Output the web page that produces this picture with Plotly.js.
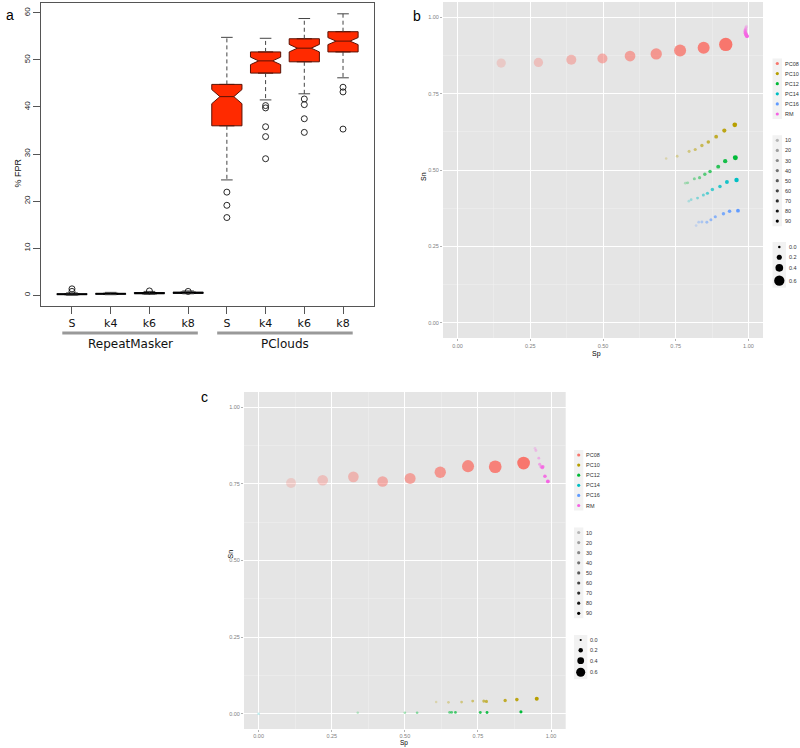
<!DOCTYPE html>
<html><head><meta charset="utf-8">
<script src="https://cdn.plot.ly/plotly-3.0.1.min.js"></script>
<style>html,body{margin:0;padding:0;background:#fff;}#chart{width:800px;height:748px;}</style>
</head><body><div id="chart"></div>
<script>
// ---------------- Panel a : % FPR boxplots ----------------
const boxLabels = ['S','k4','k6','k8','S','k4','k6','k8'];
const groupNames = ['RepeatMasker','PClouds'];
const boxQ1 =            [0.10, 0.20, 0.30, 0.40, 36.0, 47.2, 49.6, 51.7];
const boxMedian =        [0.20, 0.30, 0.40, 0.50, 42.2, 49.8, 52.5, 54.0];
const boxQ3 =            [0.30, 0.40, 0.55, 0.65, 44.8, 51.7, 54.5, 56.0];
const boxLowerWhisker =  [0.00, 0.10, 0.20, 0.30, 24.5, 41.5, 42.8, 46.2];
const boxUpperWhisker =  [0.50, 0.60, 0.80, 0.90, 54.8, 54.6, 58.8, 59.8];
const boxNotchSpan =     [0.05, 0.05, 0.05, 0.05, 1.5, 0.8, 0.8, 0.75];
const outlierBox =  [0, 0, 2, 3, 4, 4, 4, 5, 5, 5, 5, 5, 6, 6, 6, 6, 7, 7, 7];
const outlierVal =  [1.35, 0.8, 0.9, 0.8, 21.9, 19.1, 16.5, 40.3, 39.8, 35.8, 33.7, 29.0, 41.7, 40.5, 37.5, 34.6, 44.2, 43.2, 35.3];

// ---------------- Panels b and c : Sn vs Sp ----------------
const seriesNames = ['PC08','PC10','PC12','PC14','PC16','RM'];
const alphaLevels = [10,20,30,40,50,60,70,80,90];
const sizeBreaks = [0.0,0.2,0.4,0.6];

const bPC08Sp = [0.150,0.278,0.391,0.498,0.593,0.683,0.765,0.846,0.922];
const bPC08Sn = [0.850,0.852,0.861,0.865,0.873,0.880,0.891,0.900,0.911];
const bPC08Size = [0.52,0.52,0.58,0.58,0.63,0.68,0.73,0.73,0.83];
const bPC10Sp = [0.717,0.755,0.796,0.817,0.840,0.862,0.889,0.917,0.953];
const bPC10Sn = [0.538,0.545,0.561,0.567,0.580,0.592,0.609,0.629,0.648];
const bPC10Size = [0.00,0.02,0.04,0.05,0.07,0.08,0.10,0.13,0.17];
const bPC12Sp = [0.783,0.791,0.814,0.832,0.850,0.868,0.896,0.920,0.955];
const bPC12Sn = [0.457,0.458,0.471,0.475,0.486,0.495,0.511,0.529,0.540];
const bPC12Size = [0.02,0.03,0.04,0.05,0.07,0.08,0.11,0.14,0.19];
const bPC14Sp = [0.795,0.803,0.825,0.845,0.859,0.876,0.902,0.926,0.959];
const bPC14Sn = [0.398,0.403,0.408,0.418,0.424,0.436,0.446,0.461,0.467];
const bPC14Size = [0.01,0.02,0.03,0.04,0.05,0.07,0.08,0.11,0.15];
const bPC16Sp = [0.820,0.829,0.840,0.857,0.871,0.886,0.914,0.935,0.964];
const bPC16Sn = [0.318,0.329,0.330,0.329,0.337,0.347,0.357,0.365,0.367];
const bPC16Size = [0.01,0.02,0.03,0.03,0.04,0.05,0.07,0.08,0.10];
const bRMSp = [0.993,0.991,0.990,0.989,0.989,0.990,0.991,0.993,0.995];
const bRMSn = [0.970,0.965,0.960,0.956,0.952,0.948,0.945,0.941,0.938];
const bRMSize = [0.05,0.06,0.07,0.08,0.08,0.09,0.09,0.10,0.10];

const cPC08Sp = [0.111,0.219,0.324,0.424,0.518,0.621,0.716,0.809,0.906];
const cPC08Sn = [0.753,0.762,0.773,0.758,0.768,0.788,0.808,0.806,0.818];
const cPC08Size = [0.68,0.74,0.74,0.74,0.77,0.80,0.86,0.92,0.92];
const cPC10Sp = [0.607,0.649,0.694,0.732,0.770,0.779,0.843,0.883,0.951];
const cPC10Sn = [0.038,0.037,0.038,0.041,0.041,0.040,0.043,0.046,0.049];
const cPC10Size = [0.03,0.04,0.05,0.06,0.08,0.08,0.10,0.12,0.16];
const cPC12Sp = [0.339,0.500,0.542,0.653,0.660,0.673,0.758,0.781,0.897];
const cPC12Sn = [0.003,0.003,0.003,0.004,0.004,0.004,0.004,0.004,0.006];
const cPC12Size = [0.03,0.04,0.04,0.05,0.05,0.05,0.06,0.06,0.08];
const cPC14Sp = [0.000];
const cPC14Sn = [0.000];
const cPC14Size = [0.03];
const cPC16Sp = [];
const cPC16Sn = [];
const cPC16Size = [];
const cRMSp = [0.945,0.948,0.958,0.961,0.966,0.970,0.972,0.979,0.989];
const cRMSn = [0.866,0.859,0.834,0.814,0.806,0.803,0.806,0.775,0.758];
const cRMSize = [0.04,0.06,0.06,0.08,0.10,0.10,0.10,0.12,0.14];

// ---------------- styling ----------------
const seriesColors = ['#F8766D','#B79F00','#00BA38','#00BFC4','#619CFF','#F564E3'];
const W = 800, H = 748;
const px = x => x / W;
const py = y => 1 - y / H;
const alphaOf = v => 0.25 + 0.75 * (v - 10) / 80;
const sizePx = (v, k) => k * (2.5 + 13 * v);
const GG = 'Liberation Sans';
const RF = 'DejaVu Sans';

const traces = [];
const shapes = [];
const annotations = [];

// ---- panel a traces
const boxPos = boxLabels.map((_, i) => i + 1);
const groupIdx = [[0,1,2,3],[4,5,6,7]];
const groupFill = ['#1c1c5c', '#FF2A00'];
const groupLine = ['#000000', '#5a1205'];
groupIdx.forEach((idx, g) => {
  traces.push({
    type: 'box', xaxis: 'x', yaxis: 'y', name: groupNames[g],
    x: idx.map(i => boxPos[i]),
    q1: idx.map(i => boxQ1[i]), median: idx.map(i => boxMedian[i]), q3: idx.map(i => boxQ3[i]),
    lowerfence: idx.map(i => boxQ1[i]), upperfence: idx.map(i => boxQ3[i]),
    notched: true, notchspan: idx.map(i => boxNotchSpan[i]), notchwidth: 0.27,
    width: 0.78, boxpoints: false, fillcolor: groupFill[g],
    line: { color: groupLine[g], width: 1 }, showlegend: false, hoverinfo: 'skip'
  });
});
const wx = [], wy = [], sx = [], sy = [];
boxPos.forEach((p, i) => {
  wx.push(p, p, null, p, p, null);
  wy.push(boxQ3[i], boxUpperWhisker[i], null, boxQ1[i], boxLowerWhisker[i], null);
  sx.push(p - 0.15, p + 0.15, null, p - 0.15, p + 0.15, null);
  sy.push(boxUpperWhisker[i], boxUpperWhisker[i], null, boxLowerWhisker[i], boxLowerWhisker[i], null);
});
traces.push({ type: 'scatter', mode: 'lines', xaxis: 'x', yaxis: 'y', x: wx, y: wy,
  line: { color: '#444', width: 1, dash: '4px,3px' }, showlegend: false, hoverinfo: 'skip' });
traces.push({ type: 'scatter', mode: 'lines', xaxis: 'x', yaxis: 'y', x: sx, y: sy,
  line: { color: '#444', width: 1 }, showlegend: false, hoverinfo: 'skip' });
traces.push({ type: 'scatter', mode: 'markers', xaxis: 'x', yaxis: 'y',
  x: outlierBox.map(i => boxPos[i]), y: outlierVal,
  marker: { symbol: 'circle-open', size: 6, color: '#111', line: { width: 0.9 } },
  showlegend: false, hoverinfo: 'skip' });

// ---- panels b, c traces
function series(sp, sn, sz, color, xa, ya, k) {
  return { type: 'scatter', mode: 'markers', xaxis: xa, yaxis: ya, x: sp, y: sn,
    marker: { color: color, size: sz.map(v => sizePx(v, k)), opacity: sp.map((_, i) => alphaOf(alphaLevels[i])), line: { width: 0 } },
    showlegend: false, hoverinfo: 'skip', cliponaxis: false };
}
const bData = [[bPC08Sp,bPC08Sn,bPC08Size],[bPC10Sp,bPC10Sn,bPC10Size],[bPC12Sp,bPC12Sn,bPC12Size],
               [bPC14Sp,bPC14Sn,bPC14Size],[bPC16Sp,bPC16Sn,bPC16Size],[bRMSp,bRMSn,bRMSize]];
const cData = [[cPC08Sp,cPC08Sn,cPC08Size],[cPC10Sp,cPC10Sn,cPC10Size],[cPC12Sp,cPC12Sn,cPC12Size],
               [cPC14Sp,cPC14Sn,cPC14Size],[cPC16Sp,cPC16Sn,cPC16Size],[cRMSp,cRMSn,cRMSize]];
bData.forEach((d, s) => traces.push(series(d[0], d[1], d[2], seriesColors[s], 'x2', 'y2', 1)));
cData.forEach((d, s) => traces.push(series(d[0], d[1], d[2], seriesColors[s], 'x3', 'y3', 0.88)));

// ---- panel backgrounds
['2','3'].forEach(n => shapes.push({ type: 'rect', xref: 'x' + n + ' domain', yref: 'y' + n + ' domain',
  x0: 0, x1: 1, y0: 0, y1: 1, fillcolor: '#E5E5E5', line: { width: 0 }, layer: 'below' }));

// ---- legends (overlay axis in pixel units)
function legend(L) {
  const lx = [], ly = [], lc = [], ls = [], lo = [];
  shapes.push({ type: 'rect', xref: 'x4', yref: 'y4', x0: L.kx0, x1: L.kx1, y0: L.colorY0 - L.step / 2, y1: L.colorY0 + L.step * 5.5, fillcolor: '#F2F2F2', line: { width: 0 }, layer: 'below' });
  shapes.push({ type: 'rect', xref: 'x4', yref: 'y4', x0: L.kx0, x1: L.kx1, y0: L.alphaY0 - L.step / 2, y1: L.alphaY0 + L.step * 8.5, fillcolor: '#F2F2F2', line: { width: 0 }, layer: 'below' });
  shapes.push({ type: 'rect', xref: 'x4', yref: 'y4', x0: L.kx0, x1: L.kx1 + 4, y0: L.sizeYs[0] - 5, y1: L.sizeYs[3] + 7, fillcolor: '#F2F2F2', line: { width: 0 }, layer: 'below' });
  seriesNames.forEach((nm, i) => {
    const y = L.colorY0 + L.step * i;
    lx.push(L.cx); ly.push(y); lc.push(seriesColors[i]); ls.push(3.2); lo.push(1);
    annotations.push({ xref: 'x4', yref: 'y4', x: L.tx, y: y, text: nm, showarrow: false, xanchor: 'left', yanchor: 'middle', font: { family: GG, size: 5.5, color: '#333' } });
  });
  alphaLevels.forEach((a, i) => {
    const y = L.alphaY0 + L.step * i;
    lx.push(L.cx); ly.push(y); lc.push('#000'); ls.push(3.2); lo.push(alphaOf(a));
    annotations.push({ xref: 'x4', yref: 'y4', x: L.tx, y: y, text: String(a), showarrow: false, xanchor: 'left', yanchor: 'middle', font: { family: GG, size: 5.5, color: '#333' } });
  });
  sizeBreaks.forEach((v, i) => {
    const y = L.sizeYs[i];
    lx.push(L.scx); ly.push(y); lc.push('#000'); ls.push(sizePx(v, L.k)); lo.push(1);
    annotations.push({ xref: 'x4', yref: 'y4', x: L.stx, y: y, text: v.toFixed(1), showarrow: false, xanchor: 'left', yanchor: 'middle', font: { family: GG, size: 5.5, color: '#333' } });
  });
  traces.push({ type: 'scatter', mode: 'markers', xaxis: 'x4', yaxis: 'y4', x: lx, y: ly,
    marker: { color: lc, size: ls, opacity: lo, line: { width: 0 } }, showlegend: false, hoverinfo: 'skip', cliponaxis: false });
}
legend({ cx: 777.3, tx: 782.5, kx0: 772.5, kx1: 782, colorY0: 63.5, alphaY0: 140.3, step: 10.1, sizeYs: [247, 257.3, 267.8, 280.7], scx: 779.3, stx: 786.5, k: 1 });
legend({ cx: 578.7, tx: 584, kx0: 574, kx1: 583.3, colorY0: 455, alphaY0: 532.5, step: 10.1, sizeYs: [640, 650.3, 660.7, 672.2], scx: 580.7, stx: 587.5, k: 0.88 });

// ---- panel a decorations
const groupSpan = [[0.75, 4.25], [4.75, 8.25]];
groupSpan.forEach((s, g) => {
  shapes.push({ type: 'line', xref: 'x', yref: 'paper', x0: s[0], x1: s[1], y0: py(333), y1: py(333), line: { color: '#999', width: 3 } });
  annotations.push({ xref: 'x', yref: 'paper', x: (s[0] + s[1]) / 2, y: py(344), text: groupNames[g], showarrow: false, yanchor: 'middle', font: { family: RF, size: 12, color: '#111' } });
});
annotations.push({ xref: 'paper', yref: 'paper', x: px(10), y: py(157), text: '% FPR', textangle: -90, showarrow: false, font: { family: GG, size: 9, color: '#111' } });

// ---- panel labels & gg axis titles
[['a', 4, 5], ['b', 417, 6], ['c', 199, 397]].forEach(l => annotations.push({ xref: 'paper', yref: 'paper', x: px(l[1]), y: py(l[2]), text: l[0], showarrow: false, font: { family: GG, size: 14, color: '#000' } }));
annotations.push({ xref: 'paper', yref: 'paper', x: px(423.5), y: py(170), text: 'Sn', textangle: -90, showarrow: false, font: { family: GG, size: 7, color: '#000' } });
annotations.push({ xref: 'paper', yref: 'paper', x: px(603), y: py(353.5), text: 'Sp', showarrow: false, font: { family: GG, size: 7, color: '#000' } });
annotations.push({ xref: 'paper', yref: 'paper', x: px(224.5), y: py(561), text: 'Sn', textangle: -90, showarrow: false, font: { family: GG, size: 7, color: '#000' } });
annotations.push({ xref: 'paper', yref: 'paper', x: px(404), y: 0, yanchor: 'bottom', borderpad: 0, text: 'Sp', showarrow: false, font: { family: GG, size: 6.5, color: '#000' } });

// ---- axes
function ggAxis(domain, anchor, tl) {
  return { domain: domain, anchor: anchor, range: [-0.05, 1.05], tickmode: 'linear', tick0: 0, dtick: 0.25, tickformat: '.2f',
    showgrid: true, gridcolor: '#FFFFFF', gridwidth: 1, zeroline: false, showline: false,
    minor: { tick0: 0, dtick: 0.125, showgrid: true, gridcolor: '#F2F2F2', gridwidth: 0.5, ticks: '' },
    ticks: 'outside', ticklen: tl, tickwidth: 0.6, tickcolor: '#7F7F7F',
    tickfont: { family: GG, size: 5.5, color: '#7F7F7F' }, fixedrange: true };
}
const layout = {
  width: W, height: H, margin: { l: 0, r: 0, t: 0, b: 0 },
  paper_bgcolor: '#FFFFFF', plot_bgcolor: 'rgba(0,0,0,0)', showlegend: false,
  xaxis: { domain: [px(41), px(374)], anchor: 'y', range: [0.2, 8.8], tickmode: 'array', tickvals: boxPos, ticktext: boxLabels,
    ticks: 'outside', ticklen: 7, tickcolor: '#555', showline: true, mirror: true, linecolor: '#555', linewidth: 1,
    showgrid: false, zeroline: false, tickfont: { family: RF, size: 11, color: '#111' }, fixedrange: true },
  yaxis: { domain: [py(306), py(3)], anchor: 'x', range: [-2.3, 62.1], tickmode: 'linear', tick0: 0, dtick: 10, tickangle: -90,
    ticks: 'outside', ticklen: 7, tickcolor: '#555', showline: true, mirror: true, linecolor: '#555', linewidth: 1,
    showgrid: false, zeroline: false, tickfont: { family: GG, size: 8, color: '#222' }, fixedrange: true },
  xaxis2: ggAxis([px(443), px(763)], 'y2', 2),
  yaxis2: ggAxis([py(338), py(2)], 'x2', 2),
  xaxis3: ggAxis([px(244), px(565.7)], 'y3', 1.5),
  yaxis3: ggAxis([py(729), py(392)], 'x3', 2),
  xaxis4: { domain: [0, 1], anchor: 'y4', range: [0, W], visible: false, fixedrange: true },
  yaxis4: { domain: [0, 1], anchor: 'x4', range: [H, 0], visible: false, fixedrange: true },
  shapes: shapes, annotations: annotations
};
Plotly.newPlot('chart', traces, layout, { displayModeBar: false, staticPlot: true });
</script></body></html>
